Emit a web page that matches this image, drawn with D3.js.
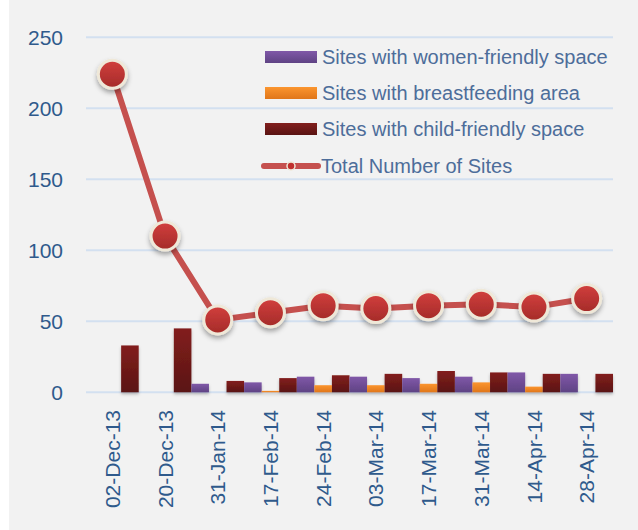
<!DOCTYPE html>
<html><head><meta charset="utf-8">
<script src="https://cdn.jsdelivr.net/npm/d3@7/dist/d3.min.js"></script>
<style>
html,body{margin:0;padding:0;background:#fff;}
svg{display:block;}
text{font-family:"Liberation Sans",Arial,sans-serif;}
</style></head>
<body><svg id="chart" width="638" height="530"></svg>
<script>
const categories = ["02-Dec-13","20-Dec-13","31-Jan-14","17-Feb-14","24-Feb-14","03-Mar-14","17-Mar-14","31-Mar-14","14-Apr-14","28-Apr-14"];
const womenFriendly = [0, 0, 6, 7, 11, 11, 10, 11, 14, 13];
const breastfeeding = [0, 0, 0, 1, 5, 5, 6, 7, 4, 0];
const childFriendly = [33, 45, 8, 10, 12, 13, 15, 14, 13, 13];
const totalSites = [224, 110, 51, 56, 61, 59, 61, 62, 60, 66];
const yTicks = [0, 50, 100, 150, 200, 250];
const seriesNames = ["Sites with women-friendly space","Sites with breastfeeding area","Sites with child-friendly space","Total Number of Sites"];

const svg = d3.select("#chart");
const defs = svg.append("defs");
function grad(id, c1, c2){
  const g = defs.append("linearGradient").attr("id", id).attr("x1",0).attr("y1",0).attr("x2",0).attr("y2",1);
  g.append("stop").attr("offset","0%").attr("stop-color",c1);
  g.append("stop").attr("offset","100%").attr("stop-color",c2);
}
grad("gPurple","#8058a8","#5f4384");
grad("gOrange","#fb952f","#e0761a");
grad("gMaroon","#821f1d","#5a1413");
grad("gMarker","#d23f3d","#a42b29");
const sh = defs.append("filter").attr("id","shadow").attr("x","-50%").attr("y","-50%").attr("width","200%").attr("height","200%");
sh.append("feDropShadow").attr("dx",0).attr("dy",3).attr("stdDeviation",2.5).attr("flood-color","#000").attr("flood-opacity",0.35);
const bsh = defs.append("filter").attr("id","bshadow").attr("x","-20%").attr("y","-20%").attr("width","140%").attr("height","140%");
bsh.append("feDropShadow").attr("dx",0).attr("dy",2).attr("stdDeviation",1.5).attr("flood-color","#000").attr("flood-opacity",0.25);

svg.append("rect").attr("x",9).attr("y",0).attr("width",629).attr("height",530).attr("fill","#f2f2f2");

const x = d3.scaleBand().domain(categories).range([86, 613]).paddingInner(0).paddingOuter(0);
const y = d3.scaleLinear().domain([0, 250]).range([392.3, 37.3]);
const keys = ["w","b","c"];
const xs = d3.scaleBand().domain(keys).range([0, x.bandwidth()]).padding(0);

// gridlines
svg.append("g").selectAll("line").data(yTicks).join("line")
  .attr("x1", 86).attr("x2", 613)
  .attr("y1", d => y(d)).attr("y2", d => y(d))
  .attr("stroke", "#d3e0f0").attr("stroke-width", 2);

// y axis labels
const yAxis = d3.axisLeft(y).tickValues(yTicks).tickSize(0).tickPadding(0);
const ya = svg.append("g").attr("transform","translate(63,0)").call(yAxis);
ya.select(".domain").remove();
ya.selectAll("text").attr("font-size",21).attr("fill","#2f5a8c").attr("font-family","Liberation Sans, Arial, sans-serif");

// x axis labels
const xAxis = d3.axisBottom(x).tickSize(0).tickPadding(0);
const xa = svg.append("g").attr("transform","translate(0,410)").call(xAxis);
xa.select(".domain").remove();
xa.selectAll("text")
  .attr("font-size",21).attr("fill","#2f5a8c").attr("font-family","Liberation Sans, Arial, sans-serif")
  .attr("transform","rotate(-90)").attr("text-anchor","end").attr("x",0).attr("y",0).attr("dy","0.36em");

// bars
const barData = categories.map((c,i) => ({cat:c, vals:[
  {k:"w", v:womenFriendly[i], f:"url(#gPurple)"},
  {k:"b", v:breastfeeding[i], f:"url(#gOrange)"},
  {k:"c", v:childFriendly[i], f:"url(#gMaroon)"}]}));
const groups = svg.append("g").attr("filter","url(#bshadow)").selectAll("g").data(barData).join("g")
  .attr("transform", d => `translate(${x(d.cat)},0)`);
groups.selectAll("rect").data(d => d.vals.filter(v => v.v > 0)).join("rect")
  .attr("x", d => xs(d.k)).attr("width", xs.bandwidth())
  .attr("y", d => y(d.v)).attr("height", d => y(0) - y(d.v))
  .attr("fill", d => d.f);

// line
const pts = categories.map((c,i) => ({cat:c, v: totalSites[i]}));
const line = d3.line().x(d => x(d.cat) + x.bandwidth()/2).y(d => y(d.v));
svg.append("path").datum(pts).attr("d", line).attr("fill","none")
  .attr("stroke","#c5504e").attr("stroke-width",6).attr("stroke-linejoin","round");
svg.append("g").selectAll("circle").data(pts).join("circle")
  .attr("cx", d => x(d.cat) + x.bandwidth()/2).attr("cy", d => y(d.v)).attr("r", 14)
  .attr("fill","url(#gMarker)").attr("stroke","#efe8d8").attr("stroke-width",3)
  .attr("filter","url(#shadow)");

// legend
const leg = svg.append("g");
const rowsY = [57, 93, 129, 166];
const fills = ["url(#gPurple)","url(#gOrange)","url(#gMaroon)"];
for (let i = 0; i < 3; i++) {
  leg.append("rect").attr("x",265).attr("y",rowsY[i]-6).attr("width",52).attr("height",12).attr("fill",fills[i]);
}
leg.append("line").attr("x1",264).attr("x2",318).attr("y1",rowsY[3]).attr("y2",rowsY[3])
  .attr("stroke","#c5504e").attr("stroke-width",6).attr("stroke-linecap","round");
leg.append("circle").attr("cx",291).attr("cy",rowsY[3]).attr("r",4).attr("fill","#c0302e")
  .attr("stroke","#efe8d8").attr("stroke-width",1.5);
leg.selectAll("text.lg").data(seriesNames).join("text").attr("class","lg")
  .attr("x", (d,i) => i === 3 ? 321 : 322).attr("y", (d,i) => rowsY[i]).attr("dy","0.36em")
  .attr("font-size",20).attr("fill","#4d6d9a").text(d => d);
</script></body></html>
